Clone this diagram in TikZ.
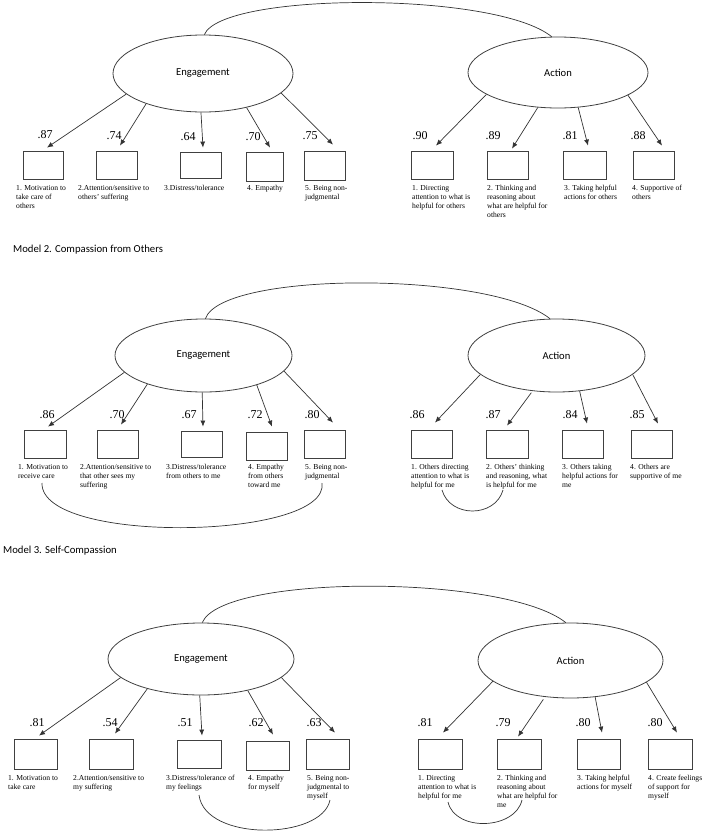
\documentclass[tikz,border=0pt]{standalone}
\usepackage{fontspec}
\setmainfont{Liberation Serif}
\newfontfamily\calibfont{Carlito}
\usetikzlibrary{shapes.geometric,arrows.meta,calc}
\newcommand\capt[1]{\begin{tabular}[t]{@{}l@{}}#1\end{tabular}}
\begin{document}
\begin{tikzpicture}[x=1pt,y=-1pt,
  lat/.style={ellipse, draw=black!75, line width=0.8pt, inner sep=0pt, font=\calibfont\fontsize{10.6}{12}\selectfont},
  ind/.style={draw=black!75, line width=0.8pt, inner sep=0pt},
  ld/.style={font=\fontsize{12}{14}\selectfont, inner sep=0pt},
  cp/.style={font=\fontsize{7.6}{9}\selectfont, inner sep=0pt, anchor=base west},
  arr/.style={-{Latex[length=6pt,width=5pt]}, line width=0.7pt, draw=black!80},
  cov/.style={line width=0.7pt, draw=black!80},
  ttl/.style={font=\calibfont\fontsize{10.7}{12}\selectfont, anchor=west, inner sep=0pt}]
\useasboundingbox (0,0) rectangle (708,833);

% ================= Model 1 =================
\node[lat, minimum width=180pt, minimum height=77pt] (e1) at (203,73.5) {Engagement};
\node[lat, minimum width=180pt, minimum height=71pt] (a1) at (558,72.5) {Action};
\draw[cov] (e1.88) .. controls (222,-8) and (495,-9) .. (a1.100);

\node[ind, minimum width=40pt, minimum height=28pt] (m1l1) at (43,165) {};
\node[ind, minimum width=41pt, minimum height=28pt] (m1l2) at (116.5,165) {};
\node[ind, minimum width=41pt, minimum height=26pt] (m1l3) at (200.5,165) {};
\node[ind, minimum width=37pt, minimum height=29pt] (m1l4) at (264.5,166.5) {};
\node[ind, minimum width=41pt, minimum height=29pt] (m1l5) at (324.5,165.5) {};
\node[ind, minimum width=42pt, minimum height=28pt] (m1r1) at (432,165) {};
\node[ind, minimum width=41pt, minimum height=28pt] (m1r2) at (507.5,165) {};
\node[ind, minimum width=43pt, minimum height=28pt] (m1r3) at (584.5,165) {};
\node[ind, minimum width=41pt, minimum height=28pt] (m1r4) at (653.5,165) {};

\draw[arr] (e1.195) -- ($(m1l1.north)+(4,-3)$);
\draw[arr] (e1.208) -- ($(m1l2.north)+(3.5,-5)$);
\draw[arr] (e1.267) -- ($(m1l3.north)+(2.5,-4)$);
\draw[arr] (e1.322) -- ($(m1l4.north)+(5.5,-4)$);
\draw[arr] (e1.346) -- ($(m1l5.north)+(8.5,-6)$);
\draw[arr] (a1.197) -- ($(m1r1.north)+(4,-5)$);
\draw[arr] (a1.240) -- ($(m1r2.north)+(4.5,-2)$);
\draw[arr] (a1.300) -- ($(m1r3.north)+(3.5,-5)$);
\draw[arr] (a1.342) -- ($(m1r4.north)+(8.5,-5)$);

\node[ld] (l1a) at (45,135) {.87};
\node[ld] (l1b) at (114,136) {.74};
\node[ld] (l1c) at (188,137) {.64};
\node[ld] (l1d) at (253,137) {.70};
\node[ld] (l1e) at (310,136) {.75};
\node[ld] (l1f) at (420,136) {.90};
\node[ld] (l1g) at (493,136) {.89};
\node[ld] (l1h) at (570,136) {.81};
\node[ld] (l1i) at (638,136) {.88};

\node[cp] (c1a) at (16,190) {\capt{1. Motivation to\\take care of\\others}};
\node[cp] (c1b) at (78,190) {\capt{2.Attention/sensitive to\\others' suffering}};
\node[cp] (c1c) at (164,190) {\capt{3.Distress/tolerance}};
\node[cp] (c1d) at (247,190) {\capt{4. Empathy}};
\node[cp] (c1e) at (305,190) {\capt{5. Being non-\\judgmental}};
\node[cp] (c1f) at (412,190) {\capt{1. Directing\\attention to what is\\helpful for others}};
\node[cp] (c1g) at (487,190) {\capt{2. Thinking and\\reasoning about\\what are helpful for\\others}};
\node[cp] (c1h) at (564,190) {\capt{3. Taking helpful\\actions for others}};
\node[cp] (c1i) at (632,190) {\capt{4. Supportive of\\others}};

% ================= Model 2 =================
\node[ttl] (t2) at (13,250) {Model 2. Compassion from Others};
\node[lat, minimum width=177pt, minimum height=73pt] (e2) at (203.5,355.5) {Engagement};
\node[lat, minimum width=177pt, minimum height=73pt] (a2) at (556.5,355.5) {Action};
\draw[cov] (e2.87) .. controls (222,271) and (490,271) .. (a2.100);

\node[ind, minimum width=42pt, minimum height=28pt] (m2l1) at (45,444) {};
\node[ind, minimum width=41pt, minimum height=28pt] (m2l2) at (117.5,444) {};
\node[ind, minimum width=41pt, minimum height=26pt] (m2l3) at (201.5,444) {};
\node[ind, minimum width=41pt, minimum height=28pt] (m2l4) at (266.5,446) {};
\node[ind, minimum width=41pt, minimum height=28pt] (m2l5) at (324.5,444) {};
\node[ind, minimum width=41pt, minimum height=28pt] (m2r1) at (431.5,444) {};
\node[ind, minimum width=42pt, minimum height=28pt] (m2r2) at (507,444) {};
\node[ind, minimum width=41pt, minimum height=28pt] (m2r3) at (582.5,444) {};
\node[ind, minimum width=41pt, minimum height=28pt] (m2r4) at (651.5,444) {};

\draw[arr] (e2.192) -- ($(m2l1.north)+(3,-3)$);
\draw[arr] (e2.207) -- ($(m2l2.north)+(3.5,-5)$);
\draw[arr] (e2.268) -- ($(m2l3.north)+(1.5,-4)$);
\draw[arr] (e2.331) -- ($(m2l4.north)+(5.5,-5)$);
\draw[arr] (e2.349) -- ($(m2l5.north)+(8.5,-7)$);
\draw[arr] (a2.194) -- ($(m2r1.north)+(3.5,-7)$);
\draw[arr, shorten <=2pt] (a2.236) -- ($(m2r2.north)+(0,-4)$);
\draw[arr] (a2.303) -- ($(m2r3.north)+(4.5,-6)$);
\draw[arr] (a2.346) -- ($(m2r4.north)+(6.5,-6)$);

\node[ld] (l2a) at (47,415) {.86};
\node[ld] (l2b) at (117,415) {.70};
\node[ld] (l2c) at (189,415) {.67};
\node[ld] (l2d) at (255,415) {.72};
\node[ld] (l2e) at (312,415) {.80};
\node[ld] (l2f) at (417,415) {.86};
\node[ld] (l2g) at (493,415) {.87};
\node[ld] (l2h) at (570,415) {.84};
\node[ld] (l2i) at (637,415) {.85};

\node[cp] (c2a) at (18,469) {\capt{1. Motivation to\\receive care}};
\node[cp] (c2b) at (80,469) {\capt{2.Attention/sensitive to\\that other sees my\\suffering}};
\node[cp] (c2c) at (166,469) {\capt{3.Distress/tolerance\\from others to me}};
\node[cp] (c2d) at (248,469) {\capt{4. Empathy\\from others\\toward me}};
\node[cp] (c2e) at (305,469) {\capt{5. Being non-\\judgmental}};
\node[cp] (c2f) at (411,469) {\capt{1. Others directing\\attention to what is\\helpful for me}};
\node[cp] (c2g) at (486,469) {\capt{2. Others' thinking\\and reasoning, what\\is helpful for me}};
\node[cp] (c2h) at (562,469) {\capt{3. Others taking\\helpful actions for\\me}};
\node[cp] (c2i) at (630,469) {\capt{4. Others are\\supportive of me}};

\coordinate (k2a) at (42,483);
\coordinate (k2b) at (322,483);
\coordinate (k2c) at (442,490);
\coordinate (k2d) at (503,490);
\draw[cov] (k2a) .. controls (40,545) and (330,540) .. (k2b);
\draw[cov] (k2c) .. controls (450,518) and (495,518) .. (k2d);

% ================= Model 3 =================
\node[ttl] (t3) at (3,551) {Model 3. Self-Compassion};
\node[lat, minimum width=186pt, minimum height=72pt] (e3) at (201,659) {Engagement};
\node[lat, minimum width=185pt, minimum height=75pt] (a3) at (570.5,660.5) {Action};
\draw[cov] (e3.88) .. controls (222,574) and (505,574) .. (a3.97);

\node[ind, minimum width=43pt, minimum height=30pt] (m3l1) at (35.5,754) {};
\node[ind, minimum width=44pt, minimum height=30pt] (m3l2) at (111,754) {};
\node[ind, minimum width=44pt, minimum height=28pt] (m3l3) at (199,754) {};
\node[ind, minimum width=43pt, minimum height=29pt] (m3l4) at (267.5,755.5) {};
\node[ind, minimum width=43pt, minimum height=30pt] (m3l5) at (327.5,754) {};
\node[ind, minimum width=44pt, minimum height=30pt] (m3r1) at (440,754) {};
\node[ind, minimum width=44pt, minimum height=30pt] (m3r2) at (519,754) {};
\node[ind, minimum width=43pt, minimum height=30pt] (m3r3) at (598.5,754) {};
\node[ind, minimum width=44pt, minimum height=30pt] (m3r4) at (670,754) {};

\draw[arr] (e3.193.5) -- ($(m3l1.north)+(3.5,-3)$);
\draw[arr] (e3.209.5) -- ($(m3l2.north)+(4,-5)$);
\draw[arr] (e3.268) -- ($(m3l3.north)+(3,-4)$);
\draw[arr] (e3.326) -- ($(m3l4.north)+(5.5,-6)$);
\draw[arr] (e3.347) -- ($(m3l5.north)+(7.5,-6)$);
\draw[arr] (a3.195) -- ($(m3r1.north)+(3,-6)$);
\draw[arr, shorten <=3pt] (a3.235) -- ($(m3r2.north)+(-1,-2)$);
\draw[arr] (a3.304) -- ($(m3r3.north)+(3.5,-6)$);
\draw[arr] (a3.344) -- ($(m3r4.north)+(7,-6)$);

\node[ld] (l3a) at (37,723) {.81};
\node[ld] (l3b) at (110,723) {.54};
\node[ld] (l3c) at (185,723) {.51};
\node[ld] (l3d) at (256,723) {.62};
\node[ld] (l3e) at (314,723) {.63};
\node[ld] (l3f) at (425,723) {.81};
\node[ld] (l3g) at (503,723) {.79};
\node[ld] (l3h) at (583,723) {.80};
\node[ld] (l3i) at (655,723) {.80};

\node[cp] (c3a) at (8,780) {\capt{1. Motivation to\\take care}};
\node[cp] (c3b) at (73,780) {\capt{2.Attention/sensitive to\\my suffering}};
\node[cp] (c3c) at (166,780) {\capt{3.Distress/tolerance of\\my feelings}};
\node[cp] (c3d) at (248,780) {\capt{4. Empathy\\for myself}};
\node[cp] (c3e) at (307,780) {\capt{5. Being non-\\judgmental to\\myself}};
\node[cp] (c3f) at (418,780) {\capt{1. Directing\\attention to what is\\helpful for me}};
\node[cp] (c3g) at (497,780) {\capt{2. Thinking and\\reasoning about\\what are helpful for\\me}};
\node[cp] (c3h) at (577,780) {\capt{3. Taking helpful\\actions for myself}};
\node[cp] (c3i) at (648,780) {\capt{4. Create feelings\\of support for\\myself}};

\coordinate (k3a) at (199,795);
\coordinate (k3b) at (330,800);
\coordinate (k3c) at (448,802);
\coordinate (k3d) at (522,800);
\draw[cov] (k3a) .. controls (205,842) and (322,840) .. (k3b);
\draw[cov] (k3c) .. controls (455,832) and (515,830) .. (k3d);
\end{tikzpicture}
\end{document}
